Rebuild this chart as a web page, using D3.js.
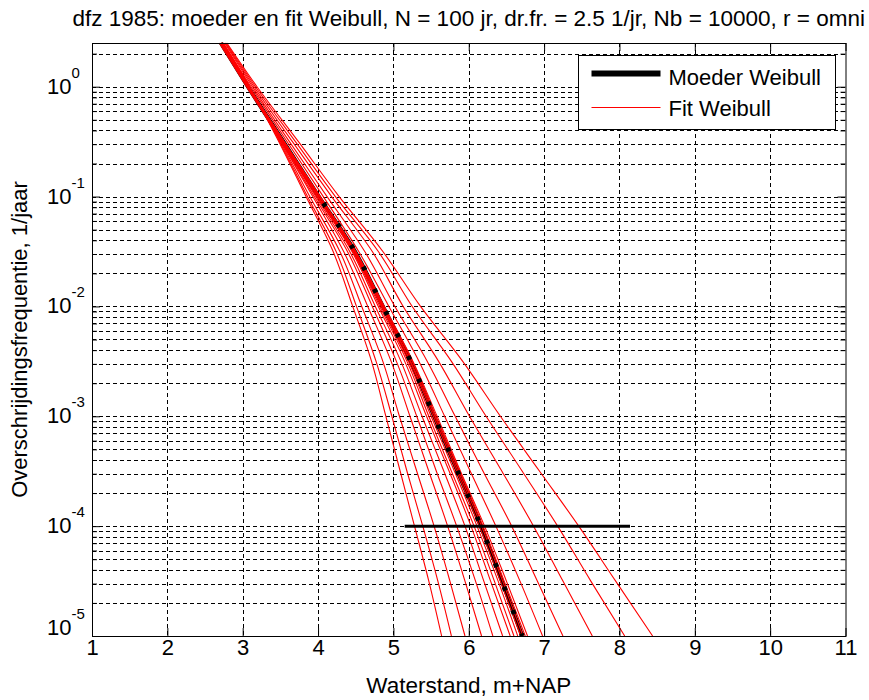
<!DOCTYPE html>
<html>
<head>
<meta charset="utf-8">
<script src="https://cdn.jsdelivr.net/npm/d3@7"></script>
<style>
body { margin: 0; background: #fff; }
svg text { font-family: "Liberation Sans", Arial, sans-serif; fill: #000; }
</style>
</head>
<body>
<div class="chart"></div>
<script>
const freqLevels = [2.5, 1, 0.316, 0.1, 0.0316, 0.01, 0.00316, 0.001, 0.000316, 0.0001, 0.0000316, 0.00001];
// moeder Weibull: waterstand (m+NAP) at each level
const moederX = [2.71, 3.07, 3.54, 4.01, 4.49, 4.86, 5.23, 5.54, 5.85, 6.16, 6.44, 6.71];
// fitted Weibull curves, same levels
const fitX = [
    [2.74, 3.09, 3.48, 3.84, 4.20, 4.46, 4.71, 4.90, 5.09, 5.28, 5.47, 5.64],
    [2.74, 3.09, 3.49, 3.86, 4.24, 4.51, 4.77, 4.98, 5.18, 5.39, 5.59, 5.77],
    [2.73, 3.08, 3.50, 3.89, 4.29, 4.58, 4.86, 5.08, 5.31, 5.54, 5.75, 5.95],
    [2.73, 3.08, 3.51, 3.93, 4.34, 4.66, 4.97, 5.22, 5.47, 5.72, 5.95, 6.17],
    [2.72, 3.07, 3.51, 3.95, 4.39, 4.72, 5.04, 5.31, 5.57, 5.84, 6.09, 6.32],
    [2.72, 3.07, 3.52, 3.97, 4.42, 4.76, 5.10, 5.38, 5.67, 5.95, 6.20, 6.45],
    [2.69, 3.05, 3.52, 3.99, 4.45, 4.80, 5.15, 5.44, 5.74, 6.03, 6.29, 6.55],
    [2.70, 3.06, 3.53, 3.99, 4.46, 4.82, 5.18, 5.47, 5.77, 6.07, 6.34, 6.60],
    [2.71, 3.07, 3.54, 4.00, 4.47, 4.84, 5.20, 5.50, 5.81, 6.11, 6.39, 6.65],
    [2.72, 3.08, 3.55, 4.00, 4.48, 4.85, 5.22, 5.53, 5.84, 6.14, 6.42, 6.69],
    [2.72, 3.08, 3.55, 4.02, 4.49, 4.86, 5.23, 5.55, 5.86, 6.17, 6.45, 6.72],
    [2.72, 3.08, 3.55, 4.02, 4.50, 4.87, 5.25, 5.56, 5.88, 6.19, 6.47, 6.75],
    [2.72, 3.08, 3.55, 4.03, 4.50, 4.88, 5.26, 5.58, 5.89, 6.21, 6.50, 6.78],
    [2.74, 3.11, 3.59, 4.07, 4.54, 4.94, 5.34, 5.68, 6.02, 6.36, 6.68, 6.98],
    [2.76, 3.13, 3.62, 4.12, 4.62, 5.02, 5.45, 5.82, 6.19, 6.57, 6.91, 7.25],
    [2.77, 3.15, 3.66, 4.18, 4.72, 5.13, 5.60, 6.01, 6.44, 6.86, 7.25, 7.64],
    [2.78, 3.17, 3.70, 4.23, 4.80, 5.25, 5.77, 6.23, 6.71, 7.18, 7.62, 8.07],
    [2.79, 3.19, 3.74, 4.28, 4.86, 5.36, 5.92, 6.42, 6.94, 7.46, 7.95, 8.44]
];
// horizontal reference line at 1e-4
const refFreq = 0.0001;
const refX = [5.15, 8.14];
const xTicks = [1, 2, 3, 4, 5, 6, 7, 8, 9, 10, 11];
const yExps = [0, -1, -2, -3, -4, -5];
const legendLabels = ["Moeder Weibull", "Fit Weibull"];
const titleText = "dfz 1985: moeder en fit Weibull, N = 100 jr, dr.fr. = 2.5 1/jr, Nb = 10000, r = omni";

// svg with margin convention
const margin = ({ top: 43, right: 23.5, bottom: 64, left: 92 });
const width = 869 - margin.left - margin.right,
    height = 700 - margin.top - margin.bottom;
const svg = d3.select(".chart").append("svg")
    .attr("width", 869)
    .attr("height", 700);
const g = svg.append("g")
    .attr("transform", `translate(${margin.left},${margin.top})`);

const xScale = d3.scaleLinear().domain([1, 11]).range([0, width]);
const yScale = d3.scaleLog().domain([0.00001, 2.5]).range([height, 0]);

const allY = yScale.ticks();
const isMajor = v => Math.abs(Math.log10(v) - Math.round(Math.log10(v))) < 1e-6;
const majorY = allY.filter(isMajor);
const minorY = allY.filter(v => !isMajor(v));
const px = v => Math.round(v) + 0.5;

// grid
const grid = g.append("g").attr("class", "grid")
    .attr("stroke", "#000").attr("stroke-width", 1).attr("stroke-dasharray", "4,3");
grid.selectAll(".gx").data(xTicks.slice(1, -1)).enter().append("line")
    .attr("x1", d => px(xScale(d))).attr("x2", d => px(xScale(d)))
    .attr("y1", 0).attr("y2", height);
grid.selectAll(".gy").data(allY).enter().append("line")
    .attr("x1", 0).attr("x2", width)
    .attr("y1", d => px(yScale(d))).attr("y2", d => px(yScale(d)));

// curves
const line = d3.line()
    .curve(d3.curveMonotoneY)
    .x(d => xScale(d[0]))
    .y(d => yScale(d[1]));
const plot = g.append("g");
const moederPts = moederX.map((v, i) => [v, freqLevels[i]]);
plot.append("path")
    .datum(moederPts)
    .attr("fill", "none").attr("stroke", "#000").attr("stroke-width", 4)
    .attr("d", line);
plot.selectAll(".fit").data(fitX).enter().append("path")
    .attr("class", "fit")
    .attr("fill", "none").attr("stroke", "#ff0000").attr("stroke-width", 1.1)
    .attr("d", d => line(d.map((v, i) => [v, freqLevels[i]])));
// black spots of the moeder line showing through the red band
plot.append("path")
    .datum(moederPts.slice(3))
    .attr("fill", "none").attr("stroke", "#000").attr("stroke-width", 5)
    .attr("stroke-dasharray", "4,21").attr("stroke-dashoffset", -8)
    .attr("d", line);
plot.append("line")
    .attr("x1", xScale(refX[0])).attr("x2", xScale(refX[1]))
    .attr("y1", yScale(refFreq)).attr("y2", yScale(refFreq))
    .attr("stroke", "#000").attr("stroke-width", 3);

// axes: ticks inward on all four sides
const cleanAxis = sel => sel.select(".domain").remove();
g.append("g").attr("transform", `translate(0,${height})`)
    .call(d3.axisBottom(xScale).tickValues(xTicks).tickSizeInner(-8).tickSizeOuter(0).tickFormat(d3.format("d")))
    .call(cleanAxis)
    .call(a => a.selectAll("text").attr("y", 19).attr("dy", null)
        .style("font-size", "22px").style("font-family", "Liberation Sans, Arial, sans-serif"));
g.append("g")
    .call(d3.axisTop(xScale).tickValues(xTicks).tickSizeInner(-8).tickSizeOuter(0).tickFormat(""))
    .call(cleanAxis);
g.append("g")
    .call(d3.axisLeft(yScale).tickValues(majorY).tickSizeInner(-8).tickSizeOuter(0).tickFormat(""))
    .call(cleanAxis);
g.append("g")
    .call(d3.axisLeft(yScale).tickValues(minorY).tickSizeInner(-5).tickSizeOuter(0).tickFormat(""))
    .call(cleanAxis);
g.append("g").attr("transform", `translate(${width},0)`)
    .call(d3.axisRight(yScale).tickValues(majorY).tickSizeInner(-8).tickSizeOuter(0).tickFormat(""))
    .call(cleanAxis);
g.append("g").attr("transform", `translate(${width},0)`)
    .call(d3.axisRight(yScale).tickValues(minorY).tickSizeInner(-5).tickSizeOuter(0).tickFormat(""))
    .call(cleanAxis);
g.selectAll(".tick line").attr("stroke", "#000");

// y tick labels 10^n
const yLab = g.append("g").selectAll("text").data(yExps).enter().append("text")
    .attr("y", d => yScale(Math.pow(10, d)) + (d === -5 ? -1 : 7))
    .style("font-size", "22px");
yLab.append("tspan").attr("x", -45).text("10");
yLab.append("tspan").attr("dy", -16).style("font-size", "15px").text(d => d);

// box
g.append("rect")
    .attr("x", 0.5).attr("y", 0.5).attr("width", width).attr("height", height)
    .attr("fill", "none").attr("stroke", "#000").attr("stroke-width", 1);

// legend
const legend = svg.append("g").attr("transform", "translate(578.5,55.5)");
legend.append("rect")
    .attr("width", 257).attr("height", 74)
    .attr("fill", "#fff").attr("stroke", "#000");
legend.append("line")
    .attr("x1", 13).attr("x2", 82).attr("y1", 18).attr("y2", 18)
    .attr("stroke", "#000").attr("stroke-width", 6);
legend.append("line")
    .attr("x1", 13).attr("x2", 82).attr("y1", 52).attr("y2", 52)
    .attr("stroke", "#ff0000").attr("stroke-width", 1.1);
legend.selectAll(".ltext").data(legendLabels).enter().append("text")
    .attr("x", 90).attr("y", (d, i) => 29.5 + i * 31)
    .style("font-size", "22px")
    .text(d => d);

// titles
svg.append("text")
    .attr("x", margin.left + width / 2).attr("y", 26)
    .attr("text-anchor", "middle")
    .style("font-size", "22.5px")
    .text(titleText);
svg.append("text")
    .attr("x", margin.left + width / 2).attr("y", 693)
    .attr("text-anchor", "middle")
    .style("font-size", "22.5px")
    .text("Waterstand, m+NAP");
svg.append("text")
    .attr("transform", `translate(27,${margin.top + height / 2}) rotate(-90)`)
    .attr("text-anchor", "middle")
    .style("font-size", "22px")
    .text("Overschrijdingsfrequentie, 1/jaar");
</script>
</body>
</html>
